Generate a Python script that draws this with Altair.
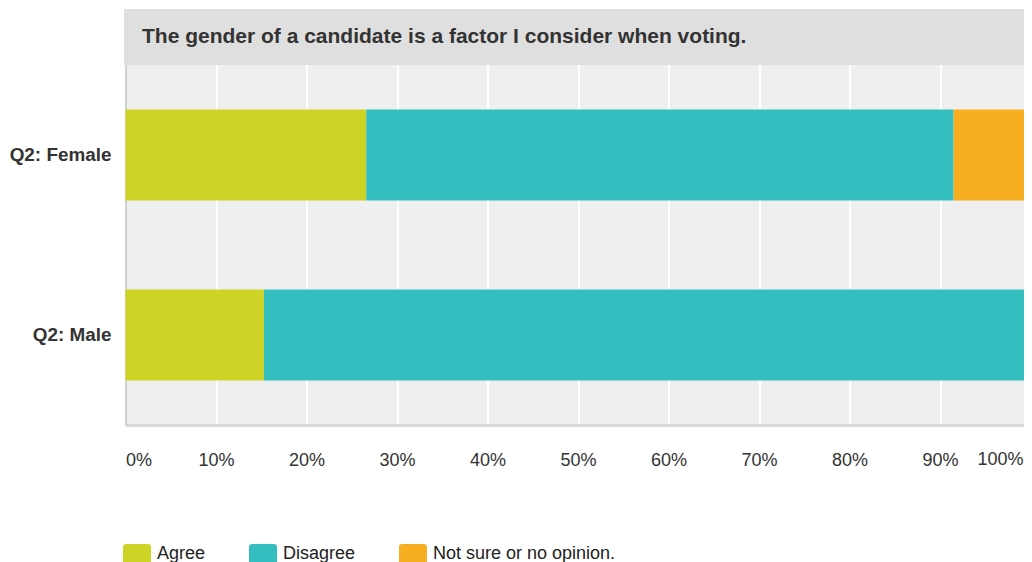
import altair as alt
import pandas as pd

# ---- data ----
categories = ["Q2: Female", "Q2: Male"]
responses = ["Agree", "Disagree", "Not sure or no opinion."]
agree = [26.6, 15.3]
disagree = [64.9, 84.7]
not_sure = [8.5, 0.0]
x_ticks = [0, 10, 20, 30, 40, 50, 60, 70, 80, 90, 100]
title_text = "The gender of a candidate is a factor I consider when voting."
colors = ["#ced426", "#34bebf", "#f7ae20"]

rows = []
for i, c in enumerate(categories):
    for j, (r, vals) in enumerate(zip(responses, [agree, disagree, not_sure])):
        rows.append({"category": c, "response": r, "value": vals[i], "order": j})
df = pd.DataFrame(rows)
title_df = pd.DataFrame({"t": [title_text]})
last_tick_df = pd.DataFrame({"v": [x_ticks[-1]], "lab": [f"{x_ticks[-1]}%"]})

W = 898.5      # visible plot width (svg ends at the window edge)
RANGE = 905    # full 0-100% span, runs past the window edge as in the original
H = 360
FONT = "Liberation Sans"
LABEL_PAD = 26

swatch = ("M-0.786,-0.714 H0.786 Q1,-0.714 1,-0.5 V0.5 Q1,0.714 0.786,0.714 "
          "H-0.786 Q-1,0.714 -1,0.5 V-0.5 Q-1,-0.714 -0.786,-0.714 Z")

xscale = alt.Scale(domain=[0, 100], nice=False, range=[0, RANGE])

band = alt.Chart(title_df).mark_rect(color="#dfdfdf").encode(
    x=alt.value(-1.5), x2=alt.value(RANGE + 10), y=alt.value(-56), y2=alt.value(0)
)
title = alt.Chart(title_df).mark_text(
    align="left", baseline="alphabetic", font=FONT, fontSize=21,
    fontWeight="bold", color="#333333"
).encode(x=alt.value(16.5), y=alt.value(-22.3), text="t:N")

bars = alt.Chart(df).mark_bar(size=91, clip=False).encode(
    x=alt.X("value:Q", stack="zero", scale=xscale,
            axis=alt.Axis(values=x_ticks,
                          labelExpr="datum.value == 100 ? '' : datum.value + '%'",
                          title=None, grid=True, gridColor="#ffffff", gridWidth=2,
                          ticks=False, domainColor="#d9d9d9", domainWidth=3,
                          labelFontSize=18, labelFont=FONT, labelColor="#333333",
                          labelFlush=True, labelPadding=LABEL_PAD, labelBaseline="top")),
    y=alt.Y("category:N", sort=categories,
            scale=alt.Scale(paddingInner=0, paddingOuter=0),
            axis=alt.Axis(title=None, ticks=False, grid=False,
                          domainColor="#d0d0d0", domainWidth=2,
                          labelFontSize=18.9, labelFont=FONT, labelFontWeight="bold",
                          labelColor="#333333", labelPadding=14.5,
                          minExtent=117.5, maxExtent=117.5)),
    color=alt.Color("response:N", sort=responses,
                    scale=alt.Scale(domain=responses, range=colors),
                    legend=alt.Legend(title=None, orient="none", legendX=-2.5,
                                      legendY=475, direction="horizontal",
                                      columns=3, columnPadding=43,
                                      labelFontSize=18, labelFont=FONT,
                                      labelColor="#222222", labelOffset=6,
                                      labelLimit=600,
                                      symbolType=swatch, symbolSize=784,
                                      symbolStrokeWidth=0, symbolOpacity=1,
                                      padding=0)),
    order=alt.Order("order:Q"),
)

# last tick label, pulled inside the visible window edge
last_label = alt.Chart(last_tick_df).mark_text(
    align="right", baseline="top", dx=-7, font=FONT, fontSize=18, color="#333333"
).encode(x=alt.X("v:Q", scale=xscale), y=alt.value(H + LABEL_PAD), text="lab:N")

chart = alt.layer(band, title, bars, last_label).properties(
    width=W, height=H,
    autosize=alt.AutoSizeParams(type="none"),
    padding={"left": 117.5, "top": 57, "right": 0, "bottom": 137},
).configure_view(fill="#efefef", stroke=None)

chart.save("out.html", embed_options={"renderer": "svg", "actions": False})
